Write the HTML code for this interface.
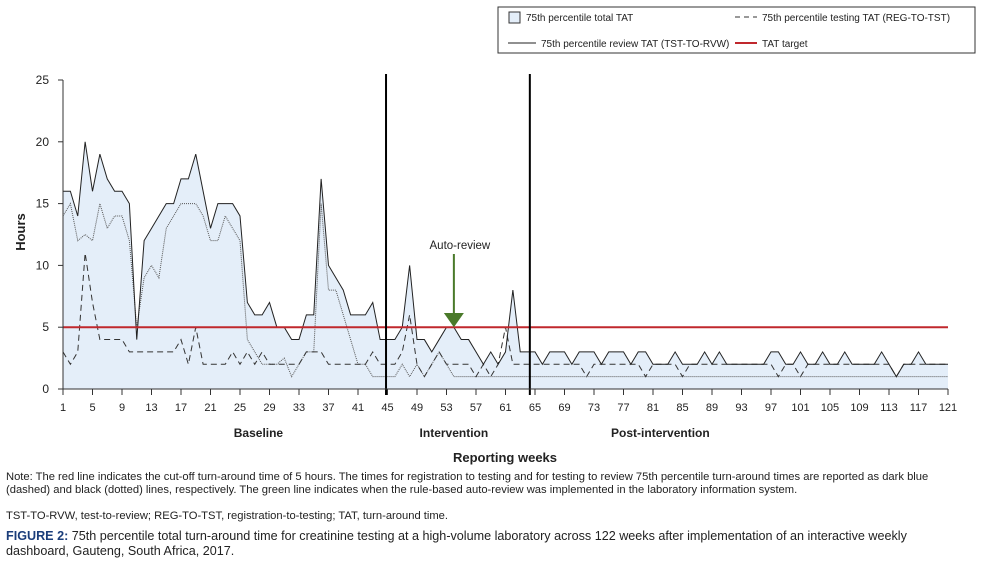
<!DOCTYPE html>
<html><head><meta charset="utf-8"><style>
body{margin:0;background:#fff;width:995px;height:566px;overflow:hidden;font-family:"Liberation Sans",sans-serif}
svg text{font-family:"Liberation Sans",sans-serif}
.note{position:absolute;left:6px;font-size:11.2px;color:#222;line-height:12.5px;width:955px}
</style></head><body>
<svg id="chart" width="995" height="470" style="position:absolute;left:0;top:0"></svg>
<div class="note" style="top:471px">Note: The red line indicates the cut-off turn-around time of 5 hours. The times for registration to testing and for testing to review 75th percentile turn-around times are reported as dark blue (dashed) and black (dotted) lines, respectively. The green line indicates when the rule-based auto-review was implemented in the laboratory information system.</div>
<div class="note" style="top:510px">TST-TO-RVW, test-to-review; REG-TO-TST, registration-to-testing; TAT, turn-around time.</div>
<div class="note" style="top:529px;font-size:12.6px;line-height:15px;width:950px"><b style="color:#1a3d7a">FIGURE 2:</b> 75th percentile total turn-around time for creatinine testing at a high-volume laboratory across 122 weeks after implementation of an interactive weekly dashboard, Gauteng, South Africa, 2017.</div>
<script>
const totalTAT=[16,16,14,20,16,19,17,16,16,15,4,12,13,14,15,15,17,17,19,16,13,15,15,15,14,7,6,6,7,5,5,4,4,6,6,17,10,9,8,6,6,6,7,4,4,4,5,10,4,4,3,4,5,5,4,4,3,2,3,2,3,8,3,3,3,2,3,3,3,2,3,3,3,2,3,3,3,2,3,3,2,2,2,3,2,2,2,3,2,3,2,2,2,2,2,2,3,3,2,2,3,2,2,3,2,2,3,2,2,2,2,3,2,1,2,2,3,2,2,2,2];
const testingTAT=[3,2,3,11,7,4,4,4,4,3,3,3,3,3,3,3,4,2,5,2,2,2,2,3,2,3,2,3,2,2,2,2,2,3,3,3,2,2,2,2,2,2,3,2,2,2,3,6,2,1,2,3,2,2,2,2,1,2,1,2,5,2,2,2,2,2,2,2,2,2,2,1,2,2,2,2,2,2,2,1,2,2,2,2,1,2,2,2,2,2,2,2,2,2,2,2,2,1,2,2,1,2,2,2,2,2,2,2,2,2,2,2,2,1,2,2,2,2,2,2,2];
const reviewTAT=[14,15,12,12.5,12,15,13,14,14,12,5,9,10,9,13,14,15,15,15,14,12,12,14,13,12,4,3,2,2,2,2.5,1,2,3,3,15,8,8,6,4,2,2,1,1,1,1,2,1,2,1,2,3,2,1,1,1,1,1,1,1,1,1,1,1,1,1,1,1,1,1,1,1,1,1,1,1,1,1,1,1,1,1,1,1,1,1,1,1,1,1,1,1,1,1,1,1,1,1,1,1,1,1,1,1,1,1,1,1,1,1,1,1,1,1,1,1,1,1,1,1,1];
const yTicks=[0,5,10,15,20,25];
const xTickWeeks=[1,5,9,13,17,21,25,29,33,37,41,45,49,53,57,61,65,69,73,77,81,85,89,93,97,101,105,109,113,117,121];
const phaseBreaks=[44.8,64.3];
const phaseLabels=["Baseline","Intervention","Post-intervention"];
const phaseLabelWeeks=[27.5,54,82];
const target=5, autoReviewWeek=54;
const NS="http://www.w3.org/2000/svg";
const svg=document.getElementById('chart');
const X=w=>63+(w-1)*(948-63)/120;
const Y=v=>389-v*(389-80)/25;
function el(t,a,p){const e=document.createElementNS(NS,t);for(const k in a)e.setAttribute(k,a[k]);(p||svg).appendChild(e);return e;}
function txt(x,y,s,a,p){const e=el('text',Object.assign({x:x,y:y,'font-size':11,fill:'#222'},a||{}),p);e.textContent=s;return e;}
let d='M'+X(1)+','+Y(0);totalTAT.forEach((v,i)=>d+='L'+X(i+1)+','+Y(v));d+='L'+X(121)+','+Y(0)+'Z';
let a=el('path',{d:d,fill:'#e4eef9',stroke:'none'});


function line(arr,attrs,name){let p='';arr.forEach((v,i)=>p+=(i?'L':'M')+X(i+1)+','+Y(v));const e=el('path',Object.assign({d:p,fill:'none'},attrs));

}
line(reviewTAT,{stroke:'#555','stroke-width':1,'stroke-dasharray':'1,1'},'review-tat-line');
line(testingTAT,{stroke:'#333','stroke-width':1,'stroke-dasharray':'6,4'},'testing-tat-line');
line(totalTAT,{stroke:'#222','stroke-width':1},'total-tat-line');
let r=el('line',{x1:X(1),x2:X(121),y1:Y(target),y2:Y(target),stroke:'#c0282d','stroke-width':2});


phaseBreaks.forEach(w=>{const l=el('line',{x1:X(w),x2:X(w),y1:74,y2:395,stroke:'#000','stroke-width':2});

});
el('line',{x1:X(1),x2:X(1),y1:Y(25),y2:Y(0),stroke:'#333'});
el('line',{x1:X(1),x2:X(121),y1:Y(0),y2:Y(0),stroke:'#333'});
yTicks.forEach(v=>{el('line',{x1:X(1)-5,x2:X(1),y1:Y(v),y2:Y(v),stroke:'#333'});const t=txt(49,Y(v)+4,String(v),{'text-anchor':'end','font-size':12});

});
xTickWeeks.forEach(w=>{el('line',{x1:X(w),x2:X(w),y1:Y(0),y2:Y(0)+6,stroke:'#333'});const t=txt(X(w),411,String(w),{'text-anchor':'middle','font-size':11});

});
phaseLabels.forEach((s,i)=>{const t=txt(X(phaseLabelWeeks[i]),437,s,{'text-anchor':'middle','font-size':12,'font-weight':'bold'});

});
let xt=txt(505,462,'Reporting weeks',{'text-anchor':'middle','font-size':13,'font-weight':'bold'});


let yt=txt(0,0,'Hours',{'text-anchor':'middle','font-size':13,'font-weight':'bold',transform:'translate(25,232) rotate(-90)'});


const ax=X(autoReviewWeek);
el('line',{x1:ax,x2:ax,y1:254,y2:316,stroke:'#4a7a2a','stroke-width':2});
el('polygon',{points:(ax-10)+',313 '+(ax+10)+',313 '+ax+','+Y(target),fill:'#4a7a2a'});
let at=txt(ax+6,249,'Auto-review',{'text-anchor':'middle','font-size':11.5});


const lg=el('g',{});


el('rect',{x:498,y:7,width:477,height:46,fill:'#fff',stroke:'#333'},lg);
el('rect',{x:509,y:12,width:11,height:11,fill:'#e4eef9',stroke:'#333'},lg);
txt(526,21,'75th percentile total TAT',{'font-size':10},lg);
el('line',{x1:735,x2:757,y1:17,y2:17,stroke:'#333','stroke-dasharray':'5,4'},lg);
txt(762,21,'75th percentile testing TAT (REG-TO-TST)',{'font-size':10},lg);
el('line',{x1:508,x2:536,y1:43,y2:43,stroke:'#222'},lg);
txt(541,47,'75th percentile review TAT (TST-TO-RVW)',{'font-size':10},lg);
el('line',{x1:735,x2:757,y1:43,y2:43,stroke:'#c0282d','stroke-width':2},lg);
txt(762,47,'TAT target',{'font-size':10},lg);
</script>
</body></html>
